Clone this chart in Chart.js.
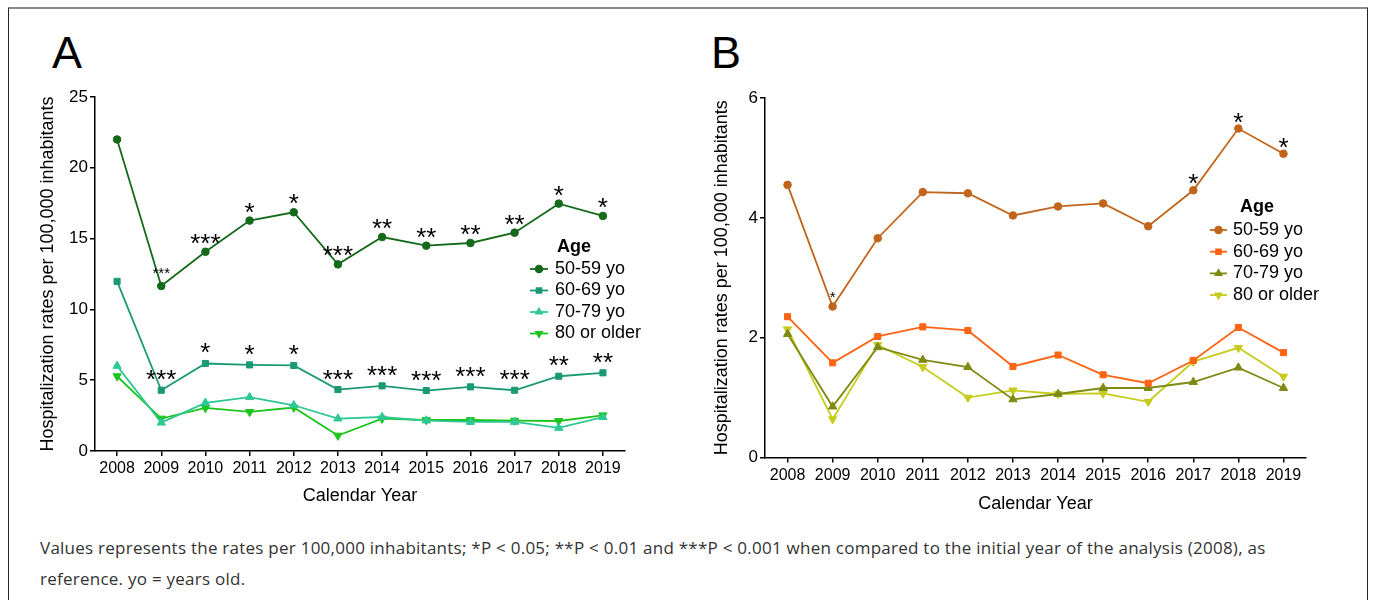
<!DOCTYPE html>
<html>
<head>
<meta charset="utf-8">
<script src="https://cdn.jsdelivr.net/npm/chart.js@4.4.1/dist/chart.umd.min.js"></script>
<style>
  body { margin:0; background:#fff; width:1373px; height:600px; overflow:hidden; position:relative; font-family:"Liberation Sans", Arial, sans-serif; }
  .frame { position:absolute; left:8px; top:7px; width:1360px; height:640px; border-top:2px solid #8a8a8a; border-left:1.5px solid #222; border-right:1.5px solid #222; box-sizing:border-box; }
  .panel { position:absolute; }
  .tag { position:absolute; top:30px; font-size:45px; line-height:45px; color:#000; }
  .caption { position:absolute; left:40px; top:532px; font-family:"Open Sans", sans-serif; font-size:17px; letter-spacing:0.25px; line-height:31px; color:#333; width:1320px; }
</style>
</head>
<body>
<div class="frame"></div>
<div class="tag" style="left:52px">A</div>
<div class="tag" style="left:711px">B</div>
<div class="panel" style="left:33px;top:0;width:640px;height:511px"><canvas id="chartA"></canvas></div>
<div class="panel" style="left:707px;top:0;width:653px;height:519px"><canvas id="chartB"></canvas></div>
<div class="caption">Values represents the rates per 100,000 inhabitants; *P &lt; 0.05; **P &lt; 0.01 and ***P &lt; 0.001 when compared to the initial year of the analysis (2008), as<br>reference. yo = years old.</div>
<script>
const years = ["2008", "2009", "2010", "2011", "2012", "2013", "2014", "2015", "2016", "2017", "2018", "2019"];
const ageGroups = ["50-59 yo", "60-69 yo", "70-79 yo", "80 or older"];
const legendTitle = "Age";
const xTitle = "Calendar Year";
const yTitle = "Hospitalization rates per 100,000 inhabitants";

// panel A
const rateA50 = [22.0, 11.65, 14.07, 16.27, 16.86, 13.18, 15.11, 14.5, 14.69, 15.42, 17.47, 16.6];
const rateA60 = [11.98, 4.29, 6.18, 6.08, 6.04, 4.34, 4.6, 4.27, 4.53, 4.29, 5.28, 5.52];
const rateA70 = [6.01, 2.0, 3.4, 3.8, 3.23, 2.29, 2.4, 2.15, 2.05, 2.05, 1.63, 2.4];
const rateA80 = [5.28, 2.29, 3.04, 2.76, 3.07, 1.09, 2.29, 2.19, 2.19, 2.15, 2.12, 2.52];
const starsA50 = ["", "***", "***", "*", "*", "***", "**", "**", "**", "**", "*", "*"];
const starsA60 = ["", "***", "*", "*", "*", "***", "***", "***", "***", "***", "**", "**"];

// panel B
const rateB50 = [4.55, 2.52, 3.66, 4.43, 4.41, 4.04, 4.19, 4.24, 3.86, 4.46, 5.49, 5.07];
const rateB60 = [2.35, 1.58, 2.02, 2.18, 2.12, 1.52, 1.71, 1.38, 1.24, 1.62, 2.17, 1.75];
const rateB70 = [2.06, 0.85, 1.84, 1.63, 1.51, 0.97, 1.06, 1.16, 1.16, 1.26, 1.5, 1.16];
const rateB80 = [2.14, 0.64, 1.88, 1.51, 1.0, 1.12, 1.06, 1.07, 0.93, 1.6, 1.83, 1.35];
const starsB50 = ["", "*", "", "", "", "", "", "", "", "*", "*", "*"];

const colorsA = ["#14691a", "#1a9a72", "#2ec896", "#1ec41e"];
const colorsB = ["#c2651c", "#ff6414", "#7e8a12", "#c6cc1e"];
const markers = [
  { style: "circle", r: 3.8, rot: 0 },
  { style: "rect", r: 4.3, rot: 0 },
  { style: "triangle", r: 4.8, rot: 0 },
  { style: "triangle", r: 4.8, rot: 180 }
];
const FONT = '"Liberation Sans", Arial, sans-serif';

const starPlugin = {
  id: "stars",
  afterDatasetsDraw(chart, args, opts) {
    const ctx = chart.ctx;
    ctx.save();
    ctx.fillStyle = "#000";
    ctx.textAlign = "center";
    ctx.textBaseline = "alphabetic";
    (opts.sets || []).forEach(s => {
      const meta = chart.getDatasetMeta(s.dataset);
      s.marks.forEach((m, i) => {
        if (!m) return;
        const pt = meta.data[i];
        const small = s.small.includes(i);
        ctx.font = (small ? 15 : 26) + "px " + FONT;
        ctx.fillText(m, pt.x, pt.y - (small ? s.gapSmall : s.gap));
      });
    });
    ctx.restore();
  }
};

const agePlugin = {
  id: "ageLegend",
  afterDraw(chart, args, o) {
    const ctx = chart.ctx;
    ctx.save();
    ctx.textBaseline = "middle";
    ctx.textAlign = "left";
    ctx.fillStyle = "#000";
    ctx.font = "bold 18px " + FONT;
    ctx.fillText(legendTitle, o.titleX, o.titleY);
    ctx.font = "18px " + FONT;
    chart.data.datasets.forEach((ds, i) => {
      const y = o.rowY + i * o.rowH;
      ctx.strokeStyle = ds.borderColor;
      ctx.fillStyle = ds.borderColor;
      ctx.lineWidth = 1.8;
      ctx.beginPath();
      ctx.moveTo(o.lineX, y);
      ctx.lineTo(o.lineX + o.lineW, y);
      ctx.stroke();
      Chart.helpers.drawPoint(ctx, { pointStyle: ds.pointStyle, rotation: ds.pointRotation, radius: 3.4, borderWidth: 1 }, o.lineX + o.lineW / 2, y);
      ctx.fillStyle = "#000";
      ctx.fillText(ds.label, o.textX, y);
    });
    ctx.restore();
  }
};

function makeDatasets(series, colors) {
  return series.map((vals, i) => ({
    label: ageGroups[i],
    data: vals,
    borderColor: colors[i],
    backgroundColor: colors[i],
    pointBackgroundColor: colors[i],
    pointBorderColor: colors[i],
    pointStyle: markers[i].style,
    pointRadius: markers[i].r,
    pointRotation: markers[i].rot,
    pointBorderWidth: 1,
    borderWidth: 1.8,
    tension: 0
  }));
}

function axes(ymax, step, yWidth, xHeight) {
  const grid = { display: true, drawOnChartArea: false, drawTicks: true, tickLength: 5, color: "#000", lineWidth: 1.5 };
  const border = { display: true, color: "#000", width: 1.5 };
  const titleFont = { family: FONT, size: 18 };
  return {
    x: {
      type: "category",
      offset: true,
      grid: Object.assign({}, grid, { offset: false }),
      border: border,
      ticks: { color: "#000", font: { family: FONT, size: 16 }, padding: 3, maxRotation: 0, autoSkip: false },
      title: { display: true, text: xTitle, color: "#000", font: titleFont },
      afterFit(s) { s.height = xHeight; }
    },
    y: {
      min: 0,
      max: ymax,
      grid: grid,
      border: border,
      ticks: { stepSize: step, color: "#000", font: { family: FONT, size: 17 }, padding: 2 },
      title: { display: true, text: yTitle, color: "#000", font: titleFont },
      afterFit(s) { s.width = yWidth; }
    }
  };
}

function makeChart(id, series, colors, cfg) {
  new Chart(document.getElementById(id), {
    type: "line",
    data: { labels: years, datasets: makeDatasets(series, colors) },
    options: {
      responsive: true,
      maintainAspectRatio: false,
      animation: false,
      layout: { padding: cfg.padding },
      scales: axes(cfg.ymax, cfg.step, cfg.yWidth, cfg.xHeight),
      plugins: {
        legend: { display: false },
        tooltip: { enabled: false },
        stars: { sets: cfg.stars },
        ageLegend: cfg.legend
      }
    },
    plugins: [starPlugin, agePlugin]
  });
}

makeChart("chartA", [rateA50, rateA60, rateA70, rateA80], colorsA, {
  ymax: 25, step: 5, yWidth: 62, xHeight: 60,
  padding: { left: 0, top: 97, right: 48, bottom: 0 },
  stars: [
    { dataset: 0, marks: starsA50, small: [1], gap: 0, gapSmall: 8 },
    { dataset: 1, marks: starsA60, small: [], gap: 2, gapSmall: 8 }
  ],
  legend: { titleX: 524, titleY: 247, rowY: 269, rowH: 21.5, lineX: 497, lineW: 18, textX: 522 }
});

makeChart("chartB", [rateB50, rateB60, rateB70, rateB80], colorsB, {
  ymax: 6, step: 2, yWidth: 58, xHeight: 61.5,
  padding: { left: 0, top: 98, right: 54, bottom: 0 },
  stars: [
    { dataset: 0, marks: starsB50, small: [1], gap: -2, gapSmall: 5 }
  ],
  legend: { titleX: 533, titleY: 207, rowY: 230, rowH: 21.7, lineX: 503, lineW: 17, textX: 526 }
});
</script>
</body>
</html>
